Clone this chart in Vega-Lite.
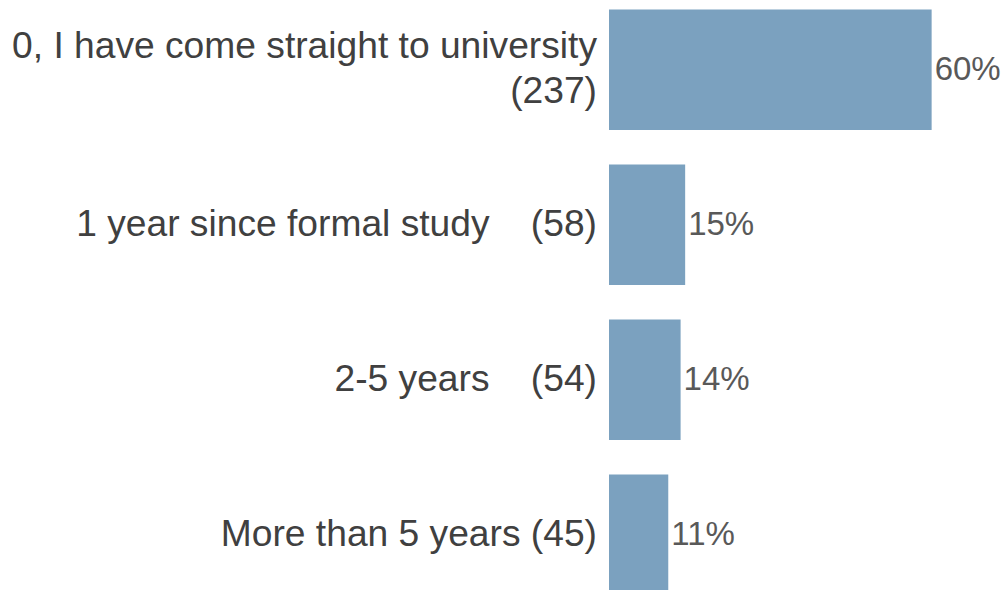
{
  "$schema": "https://vega.github.io/schema/vega-lite/v6.json",
  "autosize": {"type": "none"},
  "padding": {"left": 609, "top": 9.5, "right": 0, "bottom": 0},
  "width": 398,
  "height": 585.5,
  "background": "white",
  "config": {"view": {"stroke": null}},
  "data": {
    "values": [
      {"cat": "0, I have come straight to university\n(237)", "pct": 60.15, "label": "60%", "lines": 2},
      {"cat": "1 year since formal study\u00a0\u00a0\u00a0\u00a0(58)", "pct": 14.2, "label": "15%", "lines": 1},
      {"cat": "2-5 years\u00a0\u00a0\u00a0\u00a0(54)", "pct": 13.35, "label": "14%", "lines": 1},
      {"cat": "More than 5 years (45)", "pct": 11.05, "label": "11%", "lines": 1}
    ]
  },
  "encoding": {
    "y": {"field": "cat", "type": "nominal", "sort": null, "axis": null,
          "scale": {"paddingInner": 0.2226, "paddingOuter": 0}}
  },
  "layer": [
    {
      "mark": {"type": "bar", "color": "#7BA1BF"},
      "encoding": {
        "x": {"field": "pct", "type": "quantitative", "axis": null, "scale": {"domain": [0, 74.2], "nice": false, "zero": true}}
      }
    },
    {
      "mark": {"type": "text", "align": "left", "baseline": "middle", "dx": 3, "font": "Liberation Sans", "fontSize": 33, "color": "#595959"},
      "encoding": {
        "x": {"field": "pct", "type": "quantitative"},
        "text": {"field": "label"}
      }
    },
    {
      "transform": [{"filter": "datum.lines == 1"}],
      "mark": {"type": "text", "align": "right", "baseline": "middle", "dx": -12, "font": "Liberation Sans", "fontSize": 37.2, "color": "#404040"},
      "encoding": {
        "x": {"datum": 0, "type": "quantitative"},
        "text": {"field": "cat"}
      }
    },
    {
      "transform": [{"filter": "datum.lines == 2"}],
      "mark": {"type": "text", "align": "right", "baseline": "middle", "dx": -12, "dy": -23, "font": "Liberation Sans", "fontSize": 37.2, "color": "#404040", "lineBreak": "\n", "lineHeight": 45},
      "encoding": {
        "x": {"datum": 0, "type": "quantitative"},
        "text": {"field": "cat"}
      }
    }
  ]
}
